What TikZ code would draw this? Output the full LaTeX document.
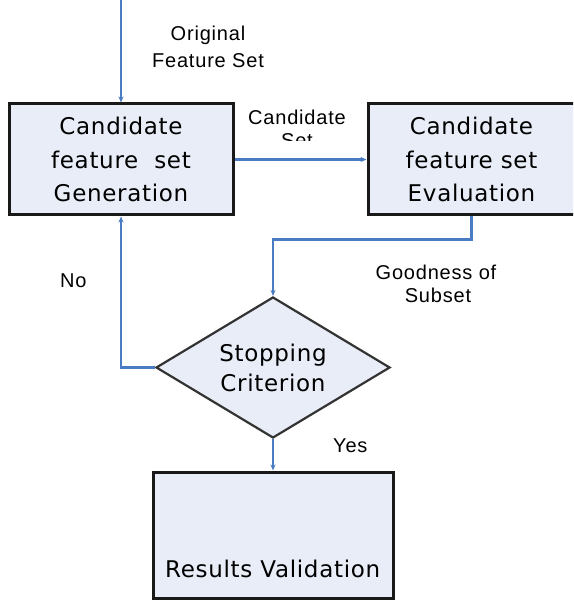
\documentclass[tikz,border=0pt]{standalone}
\usepackage{fontspec}
\usetikzlibrary{shapes.geometric,arrows.meta,calc}
\newfontfamily\boxfont[LetterSpace=3]{DejaVu Sans}
\newfontfamily\lblfont[LetterSpace=4]{Liberation Sans}
\definecolor{boxfill}{HTML}{E8EDF7}
\definecolor{flowblue}{HTML}{4A7CC4}
\begin{document}
\begin{tikzpicture}[x=1pt,y=-1pt,
  procbox/.style={draw=black!90, line width=3pt, fill=boxfill, inner sep=0pt,
    align=center, font=\boxfont\fontsize{23}{33.5}\selectfont},
  decision/.style={diamond, aspect=1.66, draw=black!80, line width=2.2pt, fill=boxfill,
    inner sep=0pt, minimum width=234pt, minimum height=141pt,
    align=center, font=\boxfont\fontsize{23}{30}\selectfont},
  flow/.style={draw=flowblue, line width=2.2pt, -{Stealth[length=6pt,width=5pt]}},
  lbl/.style={font=\lblfont\fontsize{20}{22}\selectfont, inner sep=0pt, anchor=base},
  boxtext/.style={font=\boxfont\fontsize{23}{30}\selectfont, inner sep=0pt, anchor=base west}]
  \useasboundingbox (0,0) rectangle (573,601);
  \clip (0,0) rectangle (573,601);

  % process boxes and the decision
  \node[procbox, minimum width=224pt, minimum height=111pt] (gen) at (121,159.5)
    {Candidate\\feature\ \ set\\Generation};
  \node[procbox, minimum width=207pt, minimum height=111pt] (eval) at (471.5,159.5)
    {Candidate\\feature set\\Evaluation};
  \node[decision] (stop) at (273,367.5) {Stopping\\Criterion};
  \node[procbox, minimum width=240pt, minimum height=126pt] (val) at (273,535) {};
  \node[boxtext] (valtext) at (165,577) {Results Validation};

  % connectors
  \coordinate (src) at (121,0);
  \draw[flow] (src) -- (gen.north);
  \draw[flow] (gen.east) -- (eval.west);
  \draw[flow] (eval.south) -- ++(0,23) -| (stop.north);
  \draw[flow] (stop.west) -| (gen.south);
  \draw[flow] (stop.south) -- (val.north);

  % edge labels
  \node[lbl] (orig1) at (208,41) {Original};
  \node[lbl] (orig2) at (208,68) {Feature Set};
  \node[lbl] (cand1) at (297,125) {Candidate};
  \begin{scope}
    \clip (250,129) rectangle (345,141);
    \node[lbl] (cand2) at (297,148) {Set};
  \end{scope}
  \node[lbl] (good1) at (436,279) {Goodness of};
  \node[lbl] (good2) at (438,302) {Subset};
  \node[lbl, anchor=base west] (no) at (60,287) {No};
  \node[lbl, anchor=base west] (yes) at (333,452) {Yes};
\end{tikzpicture}
\end{document}
